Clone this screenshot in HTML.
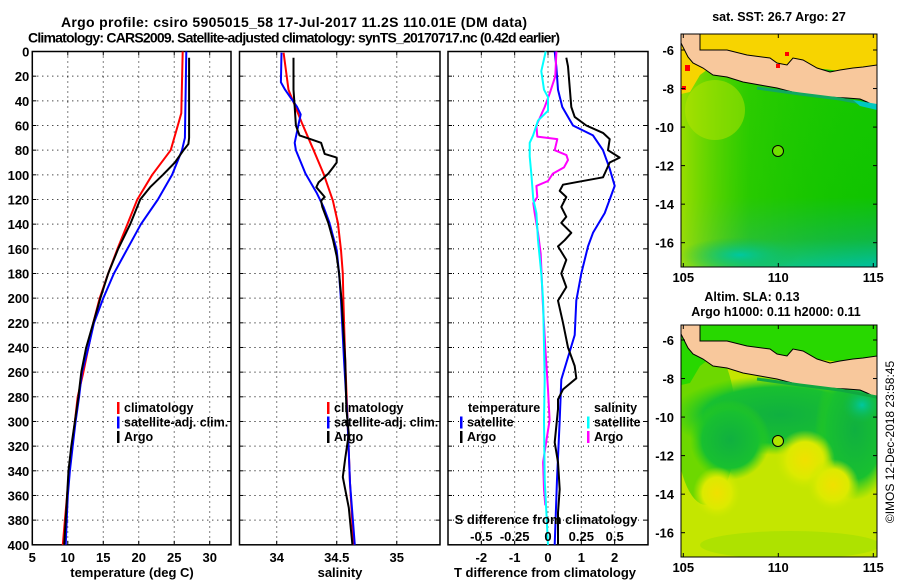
<!DOCTYPE html>
<html><head><meta charset="utf-8">
<style>
html,body{margin:0;padding:0;background:#fff;}
svg{display:block;font-family:"Liberation Sans",Arial,sans-serif;font-weight:bold;}
</style></head>
<body>
<svg id="chart" width="900" height="580" viewBox="0 0 900 580">
<defs>
  <radialGradient id="g-yellow" cx="50%" cy="50%" r="50%"><stop offset="0" stop-color="#f0e000"/><stop offset="0.6" stop-color="#dcea00"/><stop offset="1" stop-color="#c8e800" stop-opacity="0"/></radialGradient>
  <radialGradient id="g-dark" cx="50%" cy="50%" r="50%"><stop offset="0" stop-color="#10b040"/><stop offset="0.7" stop-color="#18c030"/><stop offset="1" stop-color="#30d010" stop-opacity="0"/></radialGradient>
  <radialGradient id="g-cyan" cx="50%" cy="50%" r="50%"><stop offset="0" stop-color="#00c8a0"/><stop offset="1" stop-color="#10b850" stop-opacity="0"/></radialGradient>
  <linearGradient id="g-sst" x1="0" y1="0" x2="0" y2="1"><stop offset="0" stop-color="#18c800"/><stop offset="0.7" stop-color="#10c400"/><stop offset="0.88" stop-color="#10b840"/><stop offset="1" stop-color="#00c0a0"/></linearGradient>
  <linearGradient id="g-sst-w" x1="0" y1="0" x2="1" y2="0"><stop offset="0" stop-color="#a8e000" stop-opacity="0.9"/><stop offset="0.35" stop-color="#60d800" stop-opacity="0.3"/><stop offset="1" stop-color="#20c800" stop-opacity="0"/></linearGradient>
  <clipPath id="clip-map1"><rect x="681" y="34" width="196" height="233"/></clipPath>
  <clipPath id="clip-map2"><rect x="681" y="325" width="196" height="232"/></clipPath>
</defs>

<text x="294" y="27" text-anchor="middle" font-size="14" textLength="466">Argo profile: csiro 5905015_58 17-Jul-2017 11.2S 110.01E (DM data)</text>
<text x="294" y="42.5" text-anchor="middle" font-size="14" textLength="532">Climatology: CARS2009. Satellite-adjusted climatology: synTS_20170717.nc (0.42d earlier)</text>

<g id="panels"></g>

<!-- Map 1: SST -->
<g>
  <text x="779" y="21" text-anchor="middle" font-size="12.5">sat. SST: 26.7 Argo: 27</text>
  <g clip-path="url(#clip-map1)">
    <rect x="681" y="34" width="196" height="233" fill="url(#g-sst)"/>
    <rect x="681" y="34" width="196" height="233" fill="url(#g-sst-w)"/>
    <ellipse cx="740" cy="255" rx="60" ry="18" fill="url(#g-cyan)"/>
    <ellipse cx="715" cy="110" rx="30" ry="30" fill="#b8e400" opacity="0.5"/>
    <path d="M681,34 L877,34 L877,75 L760,62 L720,60 L700,75 L690,92 L681,94 Z" fill="#f7d400"/>
    <g>
      <path d="M700,50 L727,50 L747,55 L770,58 L777,63 L787,65 L793,58 L803,60 L817,68 L830,72 L840,70 L853,68 L863,67 L877,65 L877,107 L867,102 L860,99 L847,98 L827,97 L800,94 L777,88 L760,85 L743,82 L727,77 L713,75 L703,68 L693,63 L688,57 L681,43 L681,34 L700,34 Z" fill="#f8c89c" stroke="#000" stroke-width="1"/>
      <path d="M757,88 L800,94 L840,99 L877,106" fill="none" stroke="#10a860" stroke-width="3"/>
      <path d="M853,100 L877,104 L877,110 L860,106 Z" fill="#00c8c0"/>
    </g>
    <rect x="685" y="65" width="5" height="6" fill="#f00"/><rect x="682" y="86" width="4" height="4" fill="#f00"/><rect x="776" y="64" width="4" height="4" fill="#f00"/><rect x="785" y="52" width="4" height="4" fill="#f00"/>
    <circle cx="778" cy="151" r="5.5" fill="#70e000" stroke="#000" stroke-width="1"/>
  </g>
  <rect x="681" y="34" width="196" height="233" fill="none" stroke="#000" stroke-width="1"/>
  <g id="map1-ticks"></g>
</g>

<!-- Map 2: SLA -->
<g>
  <text x="752" y="301" text-anchor="middle" font-size="12.5">Altim. SLA: 0.13</text>
  <text x="776" y="316" text-anchor="middle" font-size="12.5">Argo h1000: 0.11 h2000: 0.11</text>
  <g clip-path="url(#clip-map2)">
    <rect x="681" y="325" width="196" height="232" fill="#c4e600"/>
    <ellipse cx="706" cy="425" rx="30" ry="80" fill="#58d400" opacity="0.8"/>
    <ellipse cx="780" cy="415" rx="110" ry="40" fill="url(#g-dark)"/>
    <ellipse cx="730" cy="440" rx="40" ry="40" fill="url(#g-dark)"/>
    <ellipse cx="855" cy="430" rx="40" ry="70" fill="url(#g-dark)"/>
    <ellipse cx="862" cy="405" rx="20" ry="18" fill="url(#g-cyan)"/>
    <ellipse cx="805" cy="460" rx="30" ry="30" fill="url(#g-yellow)"/>
    <ellipse cx="833" cy="485" rx="26" ry="26" fill="url(#g-yellow)"/>
    <ellipse cx="717" cy="493" rx="24" ry="26" fill="url(#g-yellow)"/>
    <ellipse cx="790" cy="545" rx="90" ry="14" fill="#a0e000" opacity="0.6"/>
    <g transform="translate(0,291)">
      <path d="M681,34 L877,34 L877,75 L760,62 L720,60 L700,75 L690,92 L681,94 Z" fill="#28d800"/>
      <path d="M700,50 L727,50 L747,55 L770,58 L777,63 L787,65 L793,58 L803,60 L817,68 L830,72 L840,70 L853,68 L863,67 L877,65 L877,107 L867,102 L860,99 L847,98 L827,97 L800,94 L777,88 L760,85 L743,82 L727,77 L713,75 L703,68 L693,63 L688,57 L681,43 L681,34 L700,34 Z" fill="#f8c89c" stroke="#000" stroke-width="1"/>
      <path d="M757,88 L800,94 L840,99 L877,106" fill="none" stroke="#10a840" stroke-width="3"/>
    </g>
    <circle cx="778" cy="441" r="5.5" fill="#b0e400" stroke="#000" stroke-width="1"/>
  </g>
  <rect x="681" y="325" width="196" height="232" fill="none" stroke="#000" stroke-width="1"/>
  <g id="map2-ticks"></g>
</g>
<text transform="translate(894,442) rotate(-90)" text-anchor="middle" font-size="12" font-weight="normal">©IMOS 12-Dec-2018 23:58:45</text>

<script>
// ---------- data ----------
const depthTicks = [0,20,40,60,80,100,120,140,160,180,200,220,240,260,280,300,320,340,360,380,400];
const tempTicks = [5,10,15,20,25,30];
const salTicks = [34,34.5,35];
const tdiffTicks = [-2,-1,0,1,2];
const sdiffTicks = [-0.5,-0.25,0,0.25,0.5];

const climDepth = [0,50,60,80,100,120,140,160,180,200,220,240,260,280,300,320,340,360,380,400];
const climTemp  = [26.2,26.0,25.5,24.5,21.9,19.8,18.4,17.0,15.7,14.5,13.6,12.9,12.2,11.4,11.0,10.6,10.2,9.9,9.6,9.3];
const satDepth  = [0,70,80,100,120,140,160,180,200,220,240,260,280,300,320,340,360,380,400];
const satTemp   = [26.7,26.5,26.1,24.7,22.7,20.3,18.4,16.5,15.0,13.7,12.9,12.0,11.6,11.1,10.7,10.3,10.0,9.85,9.7];
const argoDepth = [5,70,75,80,90,100,110,120,140,160,180,200,220,240,260,280,300,320,340,360,380,400];
const argoTemp  = [27.1,27.1,27.0,26.3,25.1,23.4,21.6,20.2,18.8,17.1,15.7,14.6,13.6,12.6,11.9,11.5,11.0,10.5,10.1,9.9,9.7,9.5];

const climSalDepth = [1,31,58,80,99,121,139,161,180,202,250,300,350,400];
const climSal      = [34.057,34.098,34.21,34.307,34.39,34.468,34.51,34.535,34.55,34.555,34.57,34.59,34.61,34.64];
const satSalDepth  = [1,25,31,45,51,60,74,80,99,115,126,139,161,180,202,250,300,350,400];
const satSal       = [34.04,34.035,34.07,34.17,34.2,34.18,34.15,34.16,34.24,34.335,34.39,34.44,34.5,34.52,34.535,34.56,34.59,34.61,34.65];
const argoSalDepth = [5,31,45,60,68,71,74,83,86,90,94,99,106,110,118,121,126,139,153,166,180,202,250,290,310,330,345,370,400];
const argoSal      = [34.14,34.14,34.15,34.16,34.19,34.28,34.37,34.4,34.5,34.5,34.47,34.43,34.35,34.33,34.4,34.37,34.38,34.43,34.47,34.5,34.52,34.54,34.57,34.58,34.60,34.57,34.55,34.6,34.63];

const satTdDepth = [0,12,31,45,53,60,68,80,95,109,120,131,147,158,180,202,230,266,299,347,400];
const satTd      = [0.2,0.25,0.3,0.43,0.6,0.75,1.35,1.65,1.85,2.0,1.85,1.7,1.35,1.2,1.0,0.85,0.8,0.4,0.35,0.27,0.2];
const argoTdDepth = [5,12,45,53,60,66,71,80,86,90,99,102,106,108,113,118,126,134,139,147,153,158,169,180,191,202,220,240,255,265,274,282,290,317,333,355,374,400];
const argoTd      = [0.55,0.6,0.7,0.8,1.15,1.65,1.85,1.8,2.15,1.85,1.7,1.65,0.85,0.45,0.35,0.55,0.4,0.55,0.4,0.7,0.5,0.3,0.55,0.4,0.55,0.3,0.45,0.6,0.8,0.85,0.45,0.3,0.3,0.2,0.3,0.35,0.3,0.3];
const argoSdDepth = [0,20,34,45,60,69,71,80,84,88,94,99,105,109,118,123,131,147,164,202,240,274,299,314,333,355,368];
const argoSd      = [0.063,0.055,0.013,-0.025,-0.087,-0.08,0.07,0.05,0.138,0.15,0.12,0.037,0,-0.087,-0.08,-0.11,-0.1,-0.075,-0.055,-0.04,-0.02,0,0.012,-0.01,-0.037,-0.03,-0.02];
const satSdDepth = [0,16,31,37,48,56,68,74,85,99,120,131,153,180,202,266,299,347,400];
const satSd      = [-0.017,-0.05,-0.03,0,0,-0.075,-0.112,-0.137,-0.137,-0.125,-0.11,-0.087,-0.075,-0.05,-0.037,-0.025,-0.03,-0.025,0];

const latTicks = [-6,-8,-10,-12,-14,-16];
const lonTicks = [105,110,115];

// ---------- layout / scales ----------
const NS = 'http://www.w3.org/2000/svg';
const plotTop = 51.5, plotBot = 544.8;
const yD = d => plotTop + (plotBot - plotTop) * d / 400;
const P1 = {x0:32.3, x1:231, d0:5, d1:33};
const P2 = {x0:239.5, x1:440, d0:33.69, d1:35.36};
const P3 = {x0:448, x1:648, d0:-3, d1:3};
const sx = (p, v) => p.x0 + (p.x1 - p.x0) * (v - p.d0) / (p.d1 - p.d0);
const xT = v => sx(P1, v), xS = v => sx(P2, v), xTd = v => sx(P3, v), xSd = v => sx(P3, v * 4);
const root = document.getElementById('panels');

function mk(tag, attrs, parent) {
  const e = document.createElementNS(NS, tag);
  for (const k in attrs) e.setAttribute(k, attrs[k]);
  (parent || root).appendChild(e);
  return e;
}
function txt(x, y, s, anchor, size, parent) {
  const t = mk('text', {x:x, y:y, 'text-anchor':anchor, 'font-size':size}, parent);
  t.textContent = s;
  return t;
}
function line(xs, ds, xf, color, w, name) {
  const pts = xs.map((v, i) => xf(v).toFixed(1) + ',' + yD(ds[i]).toFixed(1)).join(' ');
  const pl = mk('polyline', {points:pts, fill:'none', stroke:color, 'stroke-width':w, 'stroke-linejoin':'round'});
  
  
}

function panel(p, xticks, xf, name, showDepth) {
  const g = mk('g', {});
  
  
  depthTicks.forEach(d => {
    if (d > 0 && d < 400) mk('line', {x1:p.x0, x2:p.x1, y1:yD(d), y2:yD(d), stroke:'#000', 'stroke-width':1, 'stroke-dasharray':'1,4'}, g);
    mk('line', {x1:p.x0, x2:p.x0 + 4, y1:yD(d), y2:yD(d), stroke:'#000'}, g);
    mk('line', {x1:p.x1 - 4, x2:p.x1, y1:yD(d), y2:yD(d), stroke:'#000'}, g);
    if (showDepth) {
      const t = txt(p.x0 - 3, yD(d) + 5, String(d), 'end', 13, g);
      
      
    }
  });
  xticks.forEach(v => {
    const x = xf(v);
    mk('line', {x1:x, x2:x, y1:plotTop, y2:plotBot, stroke:'#000', 'stroke-width':1, 'stroke-dasharray':'1,4'}, g);
    mk('line', {x1:x, x2:x, y1:plotBot - 4, y2:plotBot, stroke:'#000'}, g);
    mk('line', {x1:x, x2:x, y1:plotTop, y2:plotTop + 4, stroke:'#000'}, g);
    const t = txt(x, 562, String(v), 'middle', 13, g);
    
    
  });
  mk('rect', {x:p.x0, y:plotTop, width:p.x1 - p.x0, height:plotBot - plotTop, fill:'none', stroke:'#000', 'stroke-width':1.5}, g);
}

panel(P1, tempTicks, xT, 'temperature-panel', true);
panel(P2, salTicks, xS, 'salinity-panel', false);
panel(P3, tdiffTicks, xTd, 'difference-panel', false);

// series
line(climTemp, climDepth, xT, '#f00', 2, 'temp-climatology-line');
line(satTemp, satDepth, xT, '#00f', 2, 'temp-satellite-line');
line(argoTemp, argoDepth, xT, '#000', 2, 'temp-argo-line');
line(climSal, climSalDepth, xS, '#f00', 2, 'sal-climatology-line');
line(satSal, satSalDepth, xS, '#00f', 2, 'sal-satellite-line');
line(argoSal, argoSalDepth, xS, '#000', 2, 'sal-argo-line');
line(satTd, satTdDepth, xTd, '#00f', 2, 'tdiff-satellite-line');
line(argoTd, argoTdDepth, xTd, '#000', 2, 'tdiff-argo-line');
line(argoSd, argoSdDepth, xSd, '#f0f', 2, 'sdiff-argo-line');
line(satSd, satSdDepth, xSd, '#0ff', 2, 'sdiff-satellite-line');

// axis titles
[['temperature (deg C)', 132, 'temperature-axis-title'], ['salinity', 340, 'salinity-axis-title'], ['T difference from climatology', 545, 'tdiff-axis-title']].forEach(a => {
  const t = txt(a[1], 577, a[0], 'middle', 13);
  
  
});
const sdt = txt(546, 524, 'S difference from climatology', 'middle', 13);


sdiffTicks.forEach(v => {
  const t = txt(xSd(v), 541, String(v), 'middle', 13);
  
  
});

// legends
function legend(x, y, items, name) {
  items.forEach((it, i) => {
    const yy = y + i * 14.5;
    const g = mk('g', {});
    
    
    if (it[1]) mk('rect', {x:x, y:yy - 10, width:2.5, height:12, fill:it[1]}, g);
    txt(x + (it[1] ? 7 : 0), yy, it[0], 'start', 12.5, g);
  });
}
legend(117, 412, [['climatology','#f00'],['satellite-adj. clim.','#00f'],['Argo','#000']], 'temp-legend');
legend(327, 412, [['climatology','#f00'],['satellite-adj. clim.','#00f'],['Argo','#000']], 'sal-legend');
legend(468, 412, [['temperature',null]], 'tdiff-legend');
legend(460, 426.5, [['satellite','#00f'],['Argo','#000']], 'tdiff-legend');
legend(594, 412, [['salinity',null]], 'sdiff-legend');
legend(587, 426.5, [['satellite','#0ff'],['Argo','#f0f']], 'sdiff-legend');

// map ticks
function mapTicks(gid, yTop, yBot, lat0y) {
  const g = document.getElementById(gid);
  const lonX = lon => 683.3 + (lon - 105) * 19;
  const latY = lat => lat0y + (-6 - lat) * 19.27;
  latTicks.forEach(l => {
    const y = latY(l);
    mk('line', {x1:681, x2:685, y1:y, y2:y, stroke:'#000'}, g);
    mk('line', {x1:873, x2:877, y1:y, y2:y, stroke:'#000'}, g);
    const t = txt(674, y + 5, String(l), 'end', 13, g);
    
    
  });
  lonTicks.forEach(l => {
    const x = lonX(l);
    mk('line', {x1:x, x2:x, y1:yTop, y2:yTop + 4, stroke:'#000'}, g);
    mk('line', {x1:x, x2:x, y1:yBot - 4, y2:yBot, stroke:'#000'}, g);
    const t = txt(x, yBot + 15, String(l), 'middle', 13, g);
    
    
  });
}
mapTicks('map1-ticks', 34, 267, 50);
mapTicks('map2-ticks', 325, 557, 340);
</script>
</svg>
</body></html>
